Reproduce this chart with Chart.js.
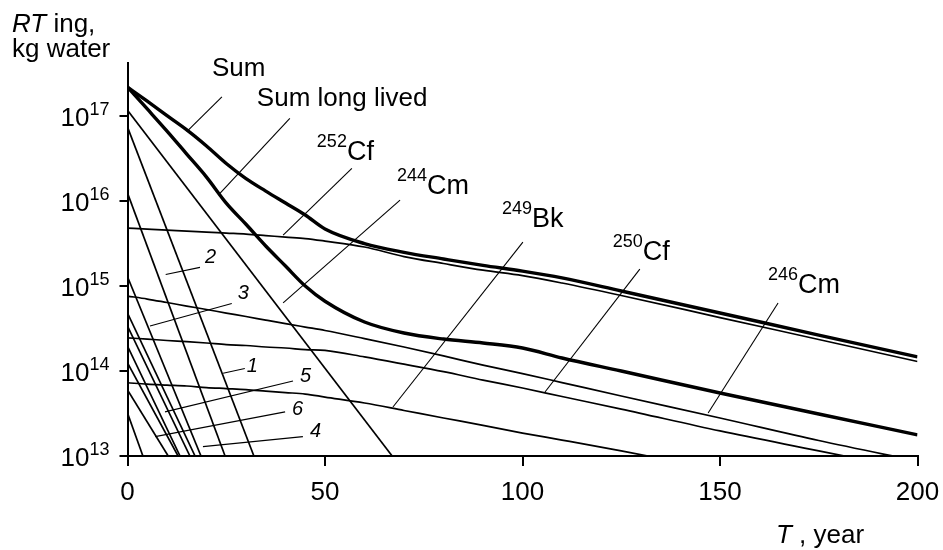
<!DOCTYPE html>
<html>
<head>
<meta charset="utf-8">
<script src="https://cdn.jsdelivr.net/npm/chart.js@4.4.1/dist/chart.umd.min.js"></script>
<style>
  html, body { margin: 0; padding: 0; background: #fff; }
  #wrap { width: 943px; height: 550px; }
</style>
</head>
<body>
<div id="wrap"><canvas id="myChart" width="943" height="550"></canvas></div>
<script>
// time grid (years) for the curved series
const years = [0, 5, 10, 15, 20, 25, 30, 35, 40, 45, 50, 60, 70, 80, 90, 100, 110, 125, 150, 175, 200];

// RT ing, kg water
const sumAll = [2.17e17, 1.48e17, 1.0e17, 6.8e16, 4.4e16, 2.74e16, 1.82e16, 1.3e16, 9.4e15, 6.8e15, 4.66e15,
  3.14e15, 2.48e15, 2.07e15, 1.74e15, 1.49e15, 1.24e15, 8.7e14, 4.8e14, 2.64e14, 1.46e14];
const sumLongLived = [2.17e17, 1.2e17, 6.6e16, 3.54e16, 1.9e16, 9.4e15, 5.3e15, 2.94e15, 1.71e15, 9.96e14, 6.6e14,
  3.76e14, 2.79e14, 2.37e14, 2.13e14, 1.86e14, 1.42e14, 9.98e13, 5.5e13, 3.12e13, 1.77e13];
const cf252 = [4.77e15, 4.65e15, 4.53e15, 4.4e15, 4.29e15, 4.17e15, 4.06e15, 3.9e15, 3.74e15, 3.6e15, 3.36e15,
  2.86e15, 2.21e15, 1.83e15, 1.53e15, 1.32e15, 1.08e15, 7.7e14, 4.24e14, 2.34e14, 1.29e14];
const cm246 = [7.59e14, 7.0e14, 6.37e14, 5.79e14, 5.27e14, 4.79e14, 4.36e14, 3.96e14, 3.6e14, 3.28e14, 2.99e14,
  2.4e14, 1.91e14, 1.5e14, 1.17e14, 9.3e13, 7.3e13, 5.07e13, 2.8e13, 1.52e13, 8.7e12];
const cf250 = [2.45e14, 2.37e14, 2.28e14, 2.21e14, 2.13e14, 2.04e14, 1.99e14, 1.91e14, 1.86e14, 1.78e14, 1.74e14,
  1.46e14, 1.2e14, 9.8e13, 7.8e13, 6.3e13, 5.0e13, 3.56e13, 1.97e13, 1.15e13, 6.7e12];
const bk249 = [7.26e13, 7.0e13, 6.82e13, 6.65e13, 6.38e13, 6.21e13, 6.04e13, 5.8e13, 5.57e13, 5.35e13, 4.93e13,
  4.2e13, 3.43e13, 2.8e13, 2.29e13, 1.86e13, 1.54e13, 1.15e13, 6.8e12, null, null];

// straight (single exponential) nuclides: value at T = 0 and year where they reach 1e13
const steepStart = [1.16e17, 7.35e16, 1.23e16, 1.28e15, 4.79e14, 3.37e14, 1.96e14, 1.24e14, 5.97e13, 3.2e13];
const steepEndYear = [67.0, 32.0, 24.7, 18.6, 17.1, 15.8, 13.3, 12.8, 10.3, 3.9];

const yTickValues = [1e13, 1e14, 1e15, 1e16, 1e17];
const yTickExps = ['13', '14', '15', '16', '17'];
const xTickStep = 50;

// annotations: text, leader line from -> to (year, value)
const noteText = ['Sum', 'Sum long lived', '252|Cf', '244|Cm', '249|Bk', '250|Cf', '246|Cm', '1', '2', '3', '4', '5', '6'];
const noteFromYear = [23.9, 41.1, 56.8, 69.0, 100.1, 129.7, 164.7, 29.7, 18.35, 26.4, 44.4, 41.9, 39.9];
const noteFromValue = [1.67e17, 9.3e16, 2.4e16, 1.02e16, 3.27e15, 1.57e15, 6.28e14, 1.07e14, 1.65e15, 6.2e14, 1.69e13, 7.6e13, 3.3e13];
const noteToYear = [15.0, 23.4, 39.4, 39.4, 67.2, 105.7, 147.0, 24.2, 9.67, 5.7, 19.1, 9.5, 7.0];
const noteToValue = [6.5e16, 1.22e16, 3.95e15, 6.3e14, 3.77e13, 5.65e13, 3.2e13, 9.4e13, 1.36e15, 3.37e14, 1.29e13, 3.3e13, 1.69e13];

// layout only: text offset (px) from the leader start
const noteDx = [-10, -33, -35, -3, -21, -27, -10, 2, 5, 6, 7, 7, 7];
const noteDy = [-21, -12, -8, -6, -15, -9, -10, 4, -4, -5, 0, 1, 3];

const FAM = '"Liberation Sans", Arial, Helvetica, sans-serif';

const toPoints = (vals) => years.map((t, i) => ({ x: t, y: vals[i] })).filter(p => p.y !== null);

const curve = (vals, width) => ({
  data: toPoints(vals),
  borderColor: '#000',
  borderWidth: width,
  pointRadius: 0,
  fill: false,
  cubicInterpolationMode: 'monotone',
});

const datasets = [
  curve(cf252, 1.7),
  curve(cm246, 1.7),
  curve(cf250, 1.7),
  curve(bk249, 1.7),
  curve(sumLongLived, 3.4),
  curve(sumAll, 3.4),
];
steepStart.forEach((v, i) => {
  datasets.push({
    data: [{ x: 0, y: v }, { x: steepEndYear[i], y: 1e13 }],
    borderColor: '#000',
    borderWidth: 1.7,
    pointRadius: 0,
    fill: false,
  });
});

function drawParts(ctx, parts, x, y) {
  let cx = x;
  parts.forEach(p => {
    ctx.font = p.font;
    ctx.fillText(p.text, cx, y + (p.dy || 0));
    cx += ctx.measureText(p.text).width;
  });
}

const overlay = {
  id: 'overlay',
  afterDraw(chart) {
    const { ctx, scales: { x, y } } = chart;
    ctx.save();
    ctx.fillStyle = '#000';
    ctx.strokeStyle = '#000';
    ctx.textBaseline = 'alphabetic';

    // y tick labels 10^n
    const labelRight = y.right - 18;
    yTickValues.forEach((v, i) => {
      const py = y.getPixelForValue(v);
      ctx.font = '18px ' + FAM;
      const ew = ctx.measureText(yTickExps[i]).width;
      ctx.textAlign = 'left';
      ctx.fillText(yTickExps[i], labelRight - ew, py - 1);
      ctx.font = '26px ' + FAM;
      ctx.textAlign = 'right';
      ctx.fillText('10', labelRight - ew, py + 10);
    });
    ctx.textAlign = 'left';

    // axis titles
    drawParts(ctx, [
      { text: 'RT', font: 'italic 26px ' + FAM },
      { text: ' ing,', font: '26px ' + FAM },
    ], 12, 32);
    drawParts(ctx, [{ text: 'kg water', font: '26px ' + FAM }], 12, 57);
    drawParts(ctx, [
      { text: 'T', font: 'italic 26px ' + FAM },
      { text: ' , year', font: '26px ' + FAM },
    ], 776, 543);

    // annotations
    noteText.forEach((txt, i) => {
      const x1 = x.getPixelForValue(noteFromYear[i]);
      const y1 = y.getPixelForValue(noteFromValue[i]);
      const x2 = x.getPixelForValue(noteToYear[i]);
      const y2 = y.getPixelForValue(noteToValue[i]);
      ctx.lineWidth = 1.1;
      ctx.beginPath();
      ctx.moveTo(x1, y1);
      ctx.lineTo(x2, y2);
      ctx.stroke();
      const tx = x1 + noteDx[i];
      const ty = y1 + noteDy[i];
      if (txt.includes('|')) {
        const [mass, sym] = txt.split('|');
        drawParts(ctx, [
          { text: mass, font: '18px ' + FAM, dy: -13 },
          { text: sym, font: '27px ' + FAM },
        ], tx, ty);
      } else if (/^\d$/.test(txt)) {
        drawParts(ctx, [{ text: txt, font: 'italic 20px ' + FAM }], tx, ty);
      } else {
        drawParts(ctx, [{ text: txt, font: '26px ' + FAM }], tx, ty);
      }
    });
    ctx.restore();
  }
};

const chart = new Chart(document.getElementById('myChart'), {
  type: 'line',
  data: { datasets },
  options: {
    responsive: false,
    animation: false,
    devicePixelRatio: 1,
    layout: { padding: { left: 0, right: 25.5, top: 62.7, bottom: 0 } },
    plugins: { legend: { display: false }, tooltip: { enabled: false } },
    scales: {
      x: {
        type: 'linear',
        min: 0,
        max: 200,
        ticks: { stepSize: xTickStep, color: '#000', font: { size: 26, family: FAM }, padding: 11, maxRotation: 0 },
        grid: { drawOnChartArea: false, drawTicks: true, tickLength: 10, color: '#000', lineWidth: 2 },
        border: { display: true, color: '#000', width: 2 },
        afterFit: (s) => { s.height = 94; s.paddingLeft = 0; s.paddingRight = 0; },
      },
      y: {
        type: 'logarithmic',
        min: 1e13,
        max: 4.2e17,
        afterBuildTicks: (s) => { s.ticks = yTickValues.map(v => ({ value: v })); },
        ticks: { display: false },
        grid: { drawOnChartArea: false, drawTicks: true, tickLength: 8, color: '#000', lineWidth: 2 },
        border: { display: true, color: '#000', width: 2 },
        afterFit: (s) => { s.width = 127.5; s.paddingTop = 0; s.paddingBottom = 0; },
      },
    },
  },
  plugins: [overlay],
});
</script>
</body>
</html>
